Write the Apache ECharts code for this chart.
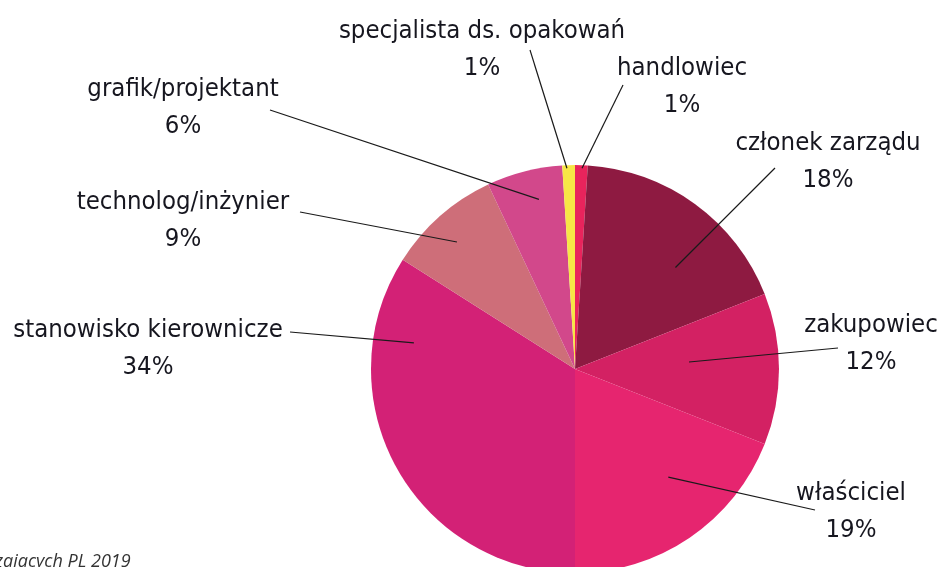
<!DOCTYPE html>
<html>
<meta charset="UTF-8">
<title>stanowiska</title>
<style type="text/css">
    html,
    body {
        margin: 0px;
        height: 100%;
        width: 100%;
        background: #fff;
    }

    #chart {
        width: 941px;
        height: 567px;
    }
</style>
<script src="https://cdn.jsdelivr.net/npm/echarts@6/dist/echarts.min.js"></script>

<body>
    <div id="chart"></div>
    <script>
        // data, clockwise from 12 o'clock
        const names = ['handlowiec', 'członek zarządu', 'zakupowiec', 'właściciel',
            'stanowisko kierownicze', 'technolog/inżynier', 'grafik/projektant', 'specjalista ds. opakowań'];
        const shares = [1, 18, 12, 19, 34, 9, 6, 1];
        const colors = ['#e8245c', '#8e1a41', '#d32163', '#e6256f', '#d32176', '#ce6e79', '#d2488b', '#f7e646'];

        // label placement: [x center, first line middle]
        const labelPos = [[682, 68], [828, 143], [871, 325], [851, 493],
            [148, 330], [183, 202], [183, 89], [482, 31]];
        // leader line: outer end near the label, inner end as [angle from top, radius fraction]
        const lineEnd = [[623, 85], [775, 168], [838, 348], [815, 510],
            [290, 332], [300, 212], [270, 110], [530, 50]];
        const lineAnchor = [[2, 0.985], [44.7, 0.7], [86.5, 0.56], [139.2, 0.7],
            [279.2, 0.8], [317.1, 0.85], [348, 0.85], [357.7, 0.985]];

        const cx = 575, cy = 369, R = 204;
        const lh = 37;

        const chart = echarts.init(document.getElementById('chart'));

        // leader lines start inside the slices, so they are drawn above the pie
        const leaders = lineAnchor.map((an, i) => {
            const a = an[0] * Math.PI / 180;
            const r = an[1] * R;
            return {
                type: 'line',
                z: 100,
                shape: {
                    x1: cx + r * Math.sin(a),
                    y1: cy - r * Math.cos(a),
                    x2: lineEnd[i][0],
                    y2: lineEnd[i][1]
                },
                style: { stroke: '#1a1a1a', lineWidth: 1.2 }
            };
        });

        chart.setOption({
            animation: false,
            graphic: leaders.concat([{
                type: 'text',
                left: -5,
                top: 553,
                style: {
                    text: 'zających PL 2019',
                    font: 'italic 18px "Open Sans"',
                    fill: '#333'
                }
            }]),
            series: [{
                type: 'pie',
                center: [cx, cy],
                radius: R,
                startAngle: 90,
                clockwise: true,
                minAngle: 0,
                avoidLabelOverlap: false,
                itemStyle: { borderWidth: 0 },
                label: {
                    show: true,
                    position: 'outside',
                    formatter: '{b}\n{c}%',
                    fontFamily: '"DejaVu Sans Condensed", "Liberation Sans Narrow", sans-serif',
                    fontSize: 25.5,
                    lineHeight: lh,
                    color: '#16161f',
                    align: 'center'
                },
                labelLine: { show: false },
                labelLayout: function (p) {
                    const i = p.dataIndex;
                    return {
                        x: labelPos[i][0],
                        y: labelPos[i][1] - lh / 2,
                        align: 'center',
                        verticalAlign: 'top'
                    };
                },
                data: names.map((n, i) => ({
                    name: n,
                    value: shares[i],
                    itemStyle: { color: colors[i] }
                }))
            }]
        });
    </script>
</body>

</html>
